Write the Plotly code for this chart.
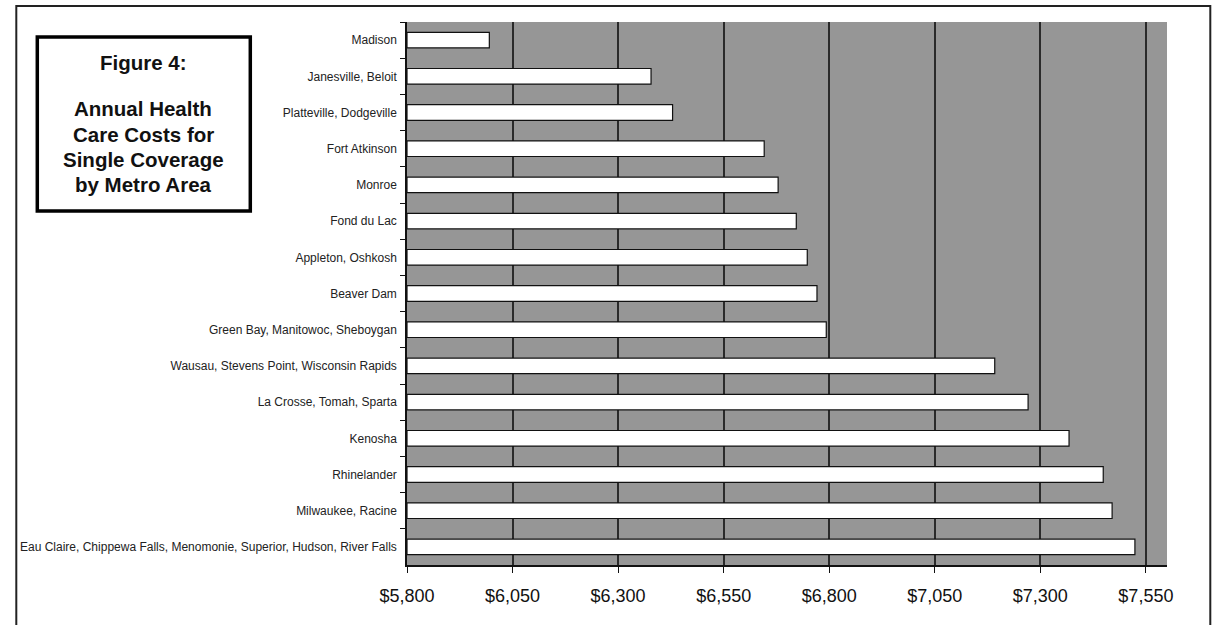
import plotly.graph_objects as go

# Metro areas, top to bottom
metro_areas = [
    "Madison",
    "Janesville, Beloit",
    "Platteville, Dodgeville",
    "Fort Atkinson",
    "Monroe",
    "Fond du Lac",
    "Appleton, Oshkosh",
    "Beaver Dam",
    "Green Bay, Manitowoc, Sheboygan",
    "Wausau, Stevens Point, Wisconsin Rapids",
    "La Crosse, Tomah, Sparta",
    "Kenosha",
    "Rhinelander",
    "Milwaukee, Racine",
    "Eau Claire, Chippewa Falls, Menomonie, Superior, Hudson, River Falls",
]

# Annual single-coverage cost (USD)
annual_cost = [5995, 6378, 6429, 6646, 6679, 6722, 6748, 6771, 6793,
               7192, 7271, 7368, 7449, 7470, 7524]

tick_values = [5800, 6050, 6300, 6550, 6800, 7050, 7300, 7550]
tick_labels = ["$5,800", "$6,050", "$6,300", "$6,550", "$6,800", "$7,050", "$7,300", "$7,550"]

title_lines = ["Figure 4:", "Annual Health", "Care Costs for", "Single Coverage", "by Metro Area"]

AXIS_MIN = 5800
W, H = 1213, 625
L, R, T, B = 406.7, 1166.7, 22, 565

FONT = "Arial, Liberation Sans, sans-serif"


def px_x(p):
    return (p - L) / (R - L)


def px_y(p):
    return (B - p) / (B - T)


fig = go.Figure(
    go.Bar(
        x=[v - AXIS_MIN for v in annual_cost],
        y=metro_areas,
        orientation="h",
        base=AXIS_MIN,
        marker=dict(color="white", line=dict(color="#111111", width=1.2)),
        width=0.43,
        customdata=annual_cost,
        hovertemplate="%{y}: $%{customdata:,}<extra></extra>",
    )
)

fig.update_layout(
    width=W,
    height=H,
    margin=dict(l=L, r=W - R, t=T, b=H - B),
    paper_bgcolor="white",
    plot_bgcolor="#969696",
    showlegend=False,
    font=dict(family=FONT, color="#111111"),
    xaxis=dict(
        range=[AXIS_MIN, 7600],
        tickvals=tick_values,
        ticktext=tick_labels,
        tickfont=dict(size=18, family=FONT, color="#111111"),
        showgrid=True,
        gridcolor="#2a2a2a",
        gridwidth=1.5,
        zeroline=False,
        showline=True,
        linecolor="#111111",
        linewidth=1.5,
        ticks="outside",
        ticklen=6,
        tickcolor="#111111",
        ticklabelstandoff=8,
        fixedrange=True,
    ),
    yaxis=dict(
        categoryorder="array",
        categoryarray=metro_areas,
        autorange="reversed",
        tickfont=dict(size=12, family=FONT, color="#222222"),
        showgrid=False,
        zeroline=False,
        showline=True,
        linecolor="#111111",
        linewidth=1.5,
        ticks="outside",
        tickson="boundaries",
        ticklen=5,
        tickcolor="#111111",
        ticklabelstandoff=6,
        fixedrange=True,
    ),
)

# outer frame
fig.add_shape(
    type="rect", xref="paper", yref="paper",
    x0=px_x(16), x1=px_x(1210), y0=px_y(640), y1=px_y(6),
    line=dict(color="#222222", width=2), layer="below",
)

# title box
fig.add_shape(
    type="rect", xref="paper", yref="paper",
    x0=px_x(37), x1=px_x(250), y0=px_y(211), y1=px_y(37),
    line=dict(color="black", width=3.5), fillcolor="white",
)

title_y = [62, 108, 134, 159, 184]
for line, yp in zip(title_lines, title_y):
    fig.add_annotation(
        xref="paper", yref="paper", x=px_x(143), y=px_y(yp),
        text=f"<b>{line}</b>", showarrow=False,
        font=dict(size=20.5, family=FONT, color="#111111"),
        xanchor="center", yanchor="middle",
    )

fig.write_html("out.html")
